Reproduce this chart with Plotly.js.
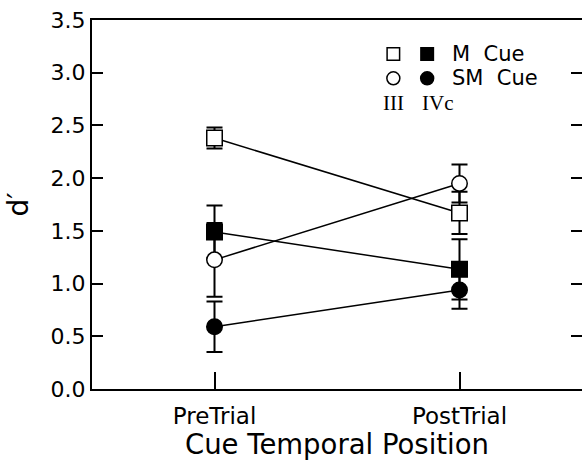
<!DOCTYPE html>
<html>
<head>
<meta charset="utf-8">
<script src="https://cdn.plot.ly/plotly-3.0.1.min.js"></script>
<style>
html,body{margin:0;padding:0;overflow:hidden;background:#fff;}
#chart{width:582px;height:460px;}
</style>
</head>
<body>
<div id="chart"></div>
<script>
// Categories (x positions 1 and 2)
const categories = ["PreTrial", "PostTrial"];
const xPos = [1, 2];

// d' values and error bars
const mCueIII = [2.38, 1.67];
const mCueIIIErr = [0.10, 0.20];
const mCueIVc = [1.49, 1.135];
const mCueIVcErr = [0.25, 0.285];
const smCueIII = [1.225, 1.95];
const smCueIIIErr = [0.35, 0.18];
const smCueIVc = [0.59, 0.94];
const smCueIVcErr = [0.24, 0.18];

const yTicks = [0, 0.5, 1, 1.5, 2, 2.5, 3, 3.5];
const yTickText = ["0.0", "0.5", "1.0", "1.5", "2.0", "2.5", "3.0", "3.5"];

function trace(y, err, symbol, fill) {
  return {
    x: xPos, y: y, type: "scatter", mode: "lines+markers",
    line: {color: "black", width: 1.5},
    marker: {symbol: symbol, size: 15.5, color: fill, line: {color: "black", width: 1.5}},
    error_y: {type: "data", array: err, visible: true, color: "black", thickness: 2, width: 8},
    showlegend: false, hoverinfo: "skip"
  };
}

const data = [
  trace(mCueIVc, mCueIVcErr, "square", "black"),
  trace(smCueIVc, smCueIVcErr, "circle", "black"),
  trace(smCueIII, smCueIIIErr, "circle", "white"),
  trace(mCueIII, mCueIIIErr, "square", "white")
];

const fontSans = "DejaVu Sans, Arial, sans-serif";
const fontSerif = "Liberation Serif, Times New Roman, serif";

function legendSym(type, x, y, fill, sz) {
  return {
    type: type, xref: "paper", yref: "paper",
    xsizemode: "pixel", ysizemode: "pixel",
    xanchor: x, yanchor: y,
    x0: -sz/2, x1: sz/2, y0: -sz/2, y1: sz/2,
    fillcolor: fill, line: {color: "black", width: 1.5}
  };
}

const layout = {
  width: 582, height: 460,
  margin: {l: 92, r: 0, t: 20, b: 71},
  paper_bgcolor: "white", plot_bgcolor: "white",
  font: {family: fontSans, color: "black", size: 22},
  xaxis: {
    range: [0.5, 2.5], tickvals: xPos, ticktext: categories,
    ticks: "inside", ticklen: 17, tickwidth: 2, tickcolor: "black",
    showline: true, linewidth: 2, linecolor: "black", mirror: true,
    showgrid: false, zeroline: false,
    ticklabelstandoff: 5,
    tickfont: {family: fontSans, size: 23},
    title: {text: "Cue Temporal Position", font: {family: fontSans, size: 27.5}, standoff: 8}
  },
  yaxis: {
    range: [0, 3.5], tickvals: yTicks, ticktext: yTickText,
    ticks: "inside", ticklen: 11, tickwidth: 2, tickcolor: "black",
    showline: true, linewidth: 2, linecolor: "black", mirror: "ticks",
    showgrid: false, zeroline: false,
    tickfont: {family: fontSans, size: 22},
    title: {text: "d\u2032", font: {family: fontSans, size: 28}, standoff: 14}
  },
  shapes: [
    legendSym("rect", 0.615, 0.908, "white", 12.5),
    legendSym("rect", 0.684, 0.908, "black", 12.5),
    legendSym("circle", 0.615, 0.842, "white", 13),
    legendSym("circle", 0.684, 0.842, "black", 13)
  ],
  annotations: [
    {xref: "paper", yref: "paper", x: 0.7306, y: 0.908, xanchor: "left", yanchor: "middle",
     text: "M\u00a0\u00a0Cue", showarrow: false, font: {family: fontSans, size: 21}},
    {xref: "paper", yref: "paper", x: 0.7306, y: 0.842, xanchor: "left", yanchor: "middle",
     text: "SM\u00a0\u00a0Cue", showarrow: false, font: {family: fontSans, size: 21}},
    {xref: "paper", yref: "paper", x: 0.615, y: 0.775, xanchor: "center", yanchor: "middle",
     text: "III", showarrow: false, font: {family: fontSerif, size: 21}},
    {xref: "paper", yref: "paper", x: 0.669, y: 0.775, xanchor: "left", yanchor: "middle",
     text: "IVc", showarrow: false, font: {family: fontSerif, size: 21}}
  ]
};

Plotly.newPlot("chart", data, layout, {staticPlot: true, displayModeBar: false});
</script>
</body>
</html>
